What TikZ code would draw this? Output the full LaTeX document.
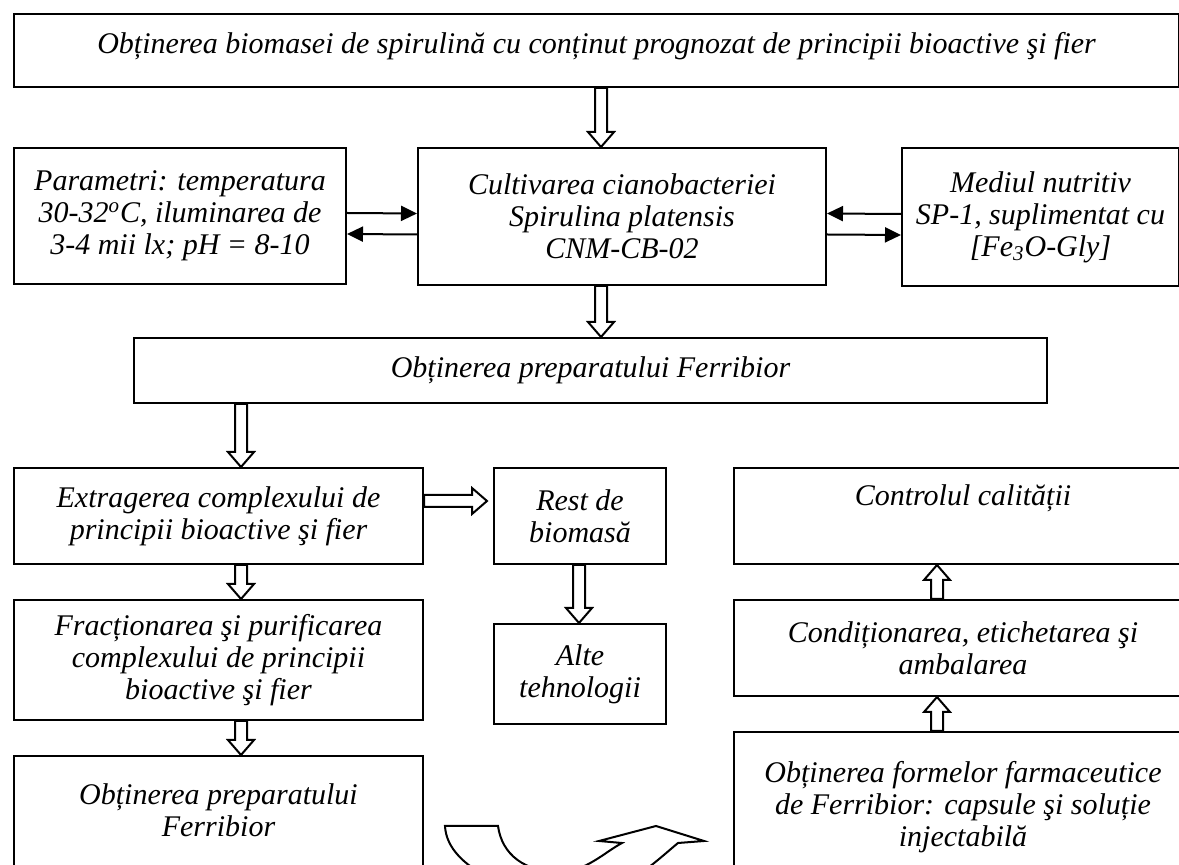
\documentclass[tikz,border=0pt]{standalone}
\usepackage{fontspec}
\setmainfont{Liberation Serif}
\usetikzlibrary{arrows.meta,calc,positioning}

% hollow block arrows: x and start from #1, tip at height of #2
\newcommand{\arrdown}[2]{\draw[hollow] let \p1=#1, \p2=#2 in
  (\x1-3pt,\y1) -- (\x1-3pt,\y2+7.5pt) -- (\x1-6.5pt,\y2+7.5pt) -- (\x1,\y2)
  -- (\x1+6.5pt,\y2+7.5pt) -- (\x1+3pt,\y2+7.5pt) -- (\x1+3pt,\y1) -- cycle;}
\newcommand{\arrup}[2]{\draw[hollow] let \p1=#1, \p2=#2 in
  (\x1-3pt,\y1) -- (\x1-3pt,\y2-7.5pt) -- (\x1-6.5pt,\y2-7.5pt) -- (\x1,\y2)
  -- (\x1+6.5pt,\y2-7.5pt) -- (\x1+3pt,\y2-7.5pt) -- (\x1+3pt,\y1) -- cycle;}
\newcommand{\arrright}[2]{\draw[hollow] let \p1=#1, \p2=#2 in
  (\x1,\y1-3pt) -- (\x2-7.5pt,\y1-3pt) -- (\x2-7.5pt,\y1-6.5pt) -- (\x2,\y1)
  -- (\x2-7.5pt,\y1+6.5pt) -- (\x2-7.5pt,\y1+3pt) -- (\x1,\y1+3pt) -- cycle;}

\begin{document}
\begin{tikzpicture}[x=0.5pt,y=-0.5pt,font=\itshape\fontsize{15}{16}\selectfont]
	\tikzstyle{box}=[draw=black,line width=1pt,anchor=north west,align=center,inner sep=0pt]
	\tikzstyle{txt}=[align=center,inner sep=0pt]
	\tikzstyle{hollow}=[draw=black,line width=1pt,fill=white,line join=miter]
	\tikzstyle{thinarr}=[draw=black,line width=1pt,-{Triangle[length=8pt,width=7.5pt]}]

	\path[use as bounding box,clip] (0,0) rectangle (1179,865);

	% first row
	\node [box,minimum width=582.5pt,minimum height=36.5pt] (top) at (13,13) {};
	\node [txt] (toptxt) at ($(top.north)+(0,33)$) {Obținerea biomasei de spirulină cu conținut prognozat de principii bioactive şi fier};

	\node [box,minimum width=166pt,minimum height=68pt] (param) at (13,147) {Parametri: temperatura\\30-32\textsuperscript{o}C, iluminarea de\\3-4 mii lx; pH = 8-10};
	\node [box,minimum width=204pt,minimum height=68.5pt] (cultiv) at (417,147) {Cultivarea cianobacteriei\\Spirulina platensis\\CNM-CB-02};
	\node [box,minimum width=138.5pt,minimum height=69pt] (mediul) at (901,147) {Mediul nutritiv\\SP-1, suplimentat cu\\{[}Fe\textsubscript{3}O-Gly{]}};

	\node [box,minimum width=456.5pt,minimum height=32.5pt] (ferri) at (133,337) {Obținerea preparatului Ferribior};

	% left column
	\node [box,minimum width=204.5pt,minimum height=48pt] (extract) at (13,467) {Extragerea complexului de\\principii bioactive şi fier};
	\node [box,minimum width=204.5pt,minimum height=60pt] (fract) at (13,599) {Fracționarea şi purificarea\\complexului de principii\\bioactive şi fier};
	\node [box,minimum width=204.5pt,minimum height=70pt] (preplow) at (13,755) {};
	\node [txt] (preplowtxt) at ($(preplow.north)+(0,55)$) {Obținerea preparatului\\Ferribior};

	% middle column
	\node [box,minimum width=86pt,minimum height=48pt] (rest) at (493,467) {Rest de\\biomasă};
	\node [box,minimum width=86pt,minimum height=50pt] (alte) at (493,623) {Alte\\tehnologii};

	% right column
	\node [box,minimum width=229pt,minimum height=48pt] (control) at (733,467) {};
	\node [txt] (controltxt) at ($(control.north)+(0,31)$) {Controlul calității};
	\node [box,minimum width=229pt,minimum height=48pt] (cond) at (733,599) {Condiționarea, etichetarea şi\\ambalarea};
	\node [box,minimum width=229pt,minimum height=90pt] (forme) at (733,731) {};
	\node [txt] (formetxt) at ($(forme.north)+(0,76)$) {Obținerea formelor farmaceutice\\de Ferribior: capsule şi soluție\\injectabilă};

	% thin arrows
	\path[thinarr] ($(param.east)+(0,-3)$) -- ($(cultiv.west)+(0,-3)$);
	\path[thinarr] ($(cultiv.west)+(0,18)$) -- ($(param.east)+(0,18)$);
	\path[thinarr] ($(mediul.west)+(0,-3)$) -- ($(cultiv.east)+(0,-3)$);
	\path[thinarr] ($(cultiv.east)+(0,18)$) -- ($(mediul.west)+(0,18)$);

	% block arrows
	\coordinate (axmid) at ($(cultiv.north)+(-21,0)$);
	\coordinate (axleft) at ($(extract.north west)+(228,0)$);
	\coordinate (axright) at ($(control.south west)+(204,0)$);
	\arrdown{(top.south -| axmid)}{(cultiv.north)}
	\arrdown{(cultiv.south -| axmid)}{(ferri.north)}
	\arrdown{(ferri.south -| axleft)}{(extract.north)}
	\arrdown{(extract.south -| axleft)}{(fract.north)}
	\arrdown{(fract.south -| axleft)}{(preplow.north)}
	\arrdown{($(rest.south)+(-1,0)$)}{(alte.north)}
	\arrright{($(extract.east)+(0,-15)$)}{($(rest.west)+(-6,0)$)}
	\arrup{(cond.north -| axright)}{(control.south)}
	\arrup{(forme.north -| axright)}{(cond.south)}

	% curved arrow
	\draw[hollow] (445,826) -- (498,826)
	  .. controls (502,855) and (525,872) .. (560,872)
	  .. controls (585,872) and (605,852) .. (622,843)
	  -- (599,841) -- (656,826) -- (704,841) -- (678,843)
	  .. controls (655,862) and (620,897) .. (575,897)
	  .. controls (520,897) and (447,870) .. (445,826) -- cycle;
\end{tikzpicture}
\end{document}
